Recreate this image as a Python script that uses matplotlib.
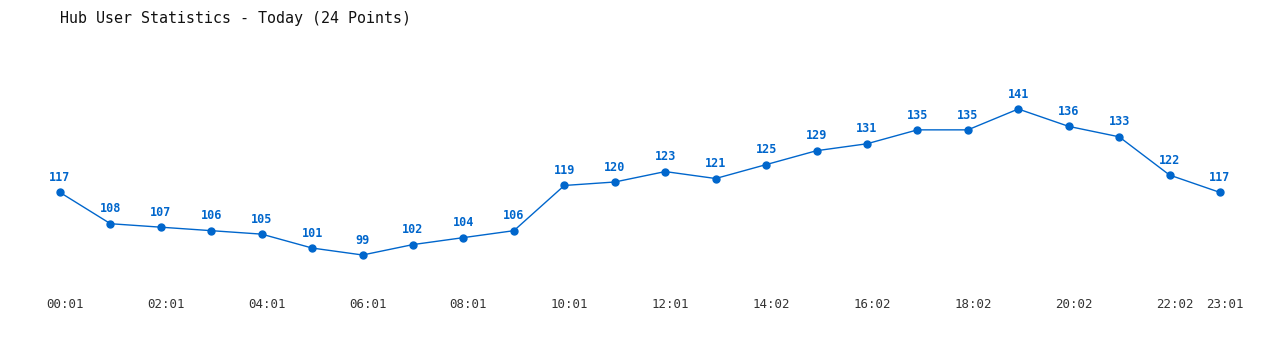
import matplotlib
matplotlib.use("Agg")
import matplotlib.pyplot as plt
import matplotlib.transforms as mtransforms

times = ["00:01", "01:01", "02:01", "03:01", "04:01", "05:01", "06:01", "07:01",
         "08:01", "09:01", "10:01", "11:01", "12:01", "13:02", "14:02", "15:02",
         "16:02", "17:02", "18:02", "19:02", "20:02", "21:02", "22:02", "23:01"]
users = [117, 108, 107, 106, 105, 101, 99, 102, 104, 106, 119, 120,
         123, 121, 125, 129, 131, 135, 135, 141, 136, 133, 122, 117]
tick_idx = [0, 2, 4, 6, 8, 10, 12, 14, 16, 18, 20, 22, 23]

color = "#0066cc"
mono = "DejaVu Sans Mono"

fig = plt.figure(figsize=(12.8, 3.5), dpi=100)
ax = fig.add_axes([60 / 1280, 95 / 350, 1160 / 1280, 146 / 350])
x = list(range(len(users)))
ax.plot(x, users, color=color, linewidth=1, marker="o", markersize=5, clip_on=False)
for i, v in enumerate(users):
    ax.annotate(str(v), (i, v), xytext=(0, 6), textcoords="offset points",
                ha="center", va="bottom", color=color, fontsize=8.5,
                fontweight="bold", family=mono)

ax.set_xlim(0, 23)
ax.set_ylim(99, 141)
ax.set_xticks(tick_idx)
ax.set_xticklabels([times[i] for i in tick_idx], family=mono, fontsize=9, color="#333333")
ax.set_yticks([])
ax.tick_params(axis="x", length=0, pad=31)
shift = mtransforms.ScaledTranslation(5 / 100, 0, fig.dpi_scale_trans)
for lbl in ax.get_xticklabels():
    lbl.set_transform(lbl.get_transform() + shift)
for s in ax.spines.values():
    s.set_visible(False)

fig.text(60 / 1280, 1 - 18 / 350, "Hub User Statistics - Today (24 Points)",
         family=mono, fontsize=10.8, color="#111111", va="center", ha="left")

fig.savefig("out.png", dpi=100, facecolor="white")
